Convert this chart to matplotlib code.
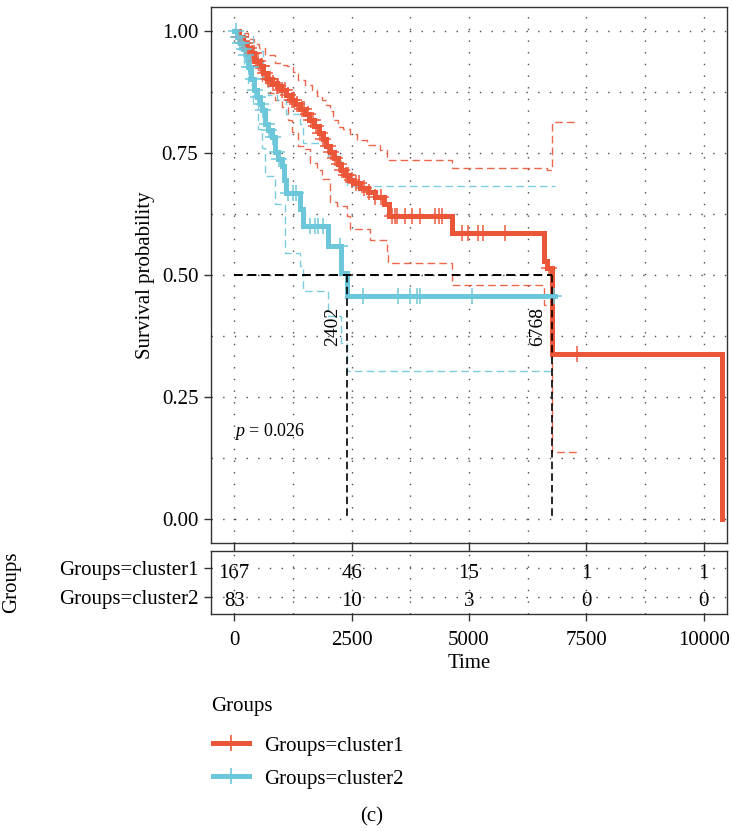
import numpy as np
import matplotlib
matplotlib.use("Agg")
import matplotlib.pyplot as plt
from matplotlib.lines import Line2D

plt.rcParams['font.family'] = ['Liberation Serif', 'DejaVu Serif']
plt.rcParams['mathtext.fontset'] = 'custom'
plt.rcParams['mathtext.rm'] = 'Liberation Serif'
plt.rcParams['mathtext.it'] = 'Liberation Serif:italic'

# ---- Kaplan-Meier estimates (step times and survival after each step) ----
cluster1_time = [0, 90, 180, 260, 340, 430, 520, 610, 700, 800, 900, 1000, 1100,
                 1200, 1300, 1400, 1500, 1600, 1700, 1800, 1880, 1960, 2040, 2120,
                 2200, 2280, 2360, 2440, 2540, 2680, 2840, 3000, 3180, 3290, 4632,
                 6594, 6663, 6768, 10381]
cluster1_surv = [1.0, 0.988, 0.976, 0.965, 0.955, 0.940, 0.928, 0.915, 0.903, 0.895,
                 0.888, 0.880, 0.870, 0.860, 0.850, 0.840, 0.830, 0.818, 0.806, 0.792,
                 0.779, 0.765, 0.752, 0.740, 0.727, 0.716, 0.706, 0.696, 0.688, 0.679,
                 0.670, 0.660, 0.645, 0.621, 0.587, 0.529, 0.515, 0.339, 0.0]

cluster2_time = [0, 60, 120, 180, 240, 300, 360, 420, 480, 540, 600, 660, 720, 800,
                 866, 940, 1010, 1050, 1100, 1400, 1470, 1990, 2280, 2402, 6830]
cluster2_surv = [1.0, 0.988, 0.976, 0.964, 0.951, 0.927, 0.903, 0.879, 0.866, 0.852,
                 0.838, 0.811, 0.797, 0.783, 0.752, 0.738, 0.724, 0.696, 0.669, 0.635,
                 0.601, 0.560, 0.505, 0.457, 0.457]

# ---- censoring times ----
cluster1_censor = [95, 150, 190, 230, 280, 320, 370, 410, 460, 500, 560, 600, 650, 720,
                   760, 830, 900, 940, 1020, 1090, 1140, 1230, 1270, 1330, 1440, 1480,
                   1560, 1630, 1680, 1740, 1830, 1900, 1990, 2060, 2140, 2230, 2300,
                   2380, 2420, 2500, 2590, 2650, 2760, 2870, 3000, 3120, 3354, 3420,
                   3460, 3637, 3786, 3963, 4283, 4354, 4425, 4845, 4987, 5200, 5306,
                   5768, 6700, 7311]
cluster2_censor = [40, 85, 130, 175, 215, 260, 310, 350, 390, 450, 510, 560, 610, 690,
                   740, 820, 900, 960, 1150, 1257, 1320, 1613, 1720, 1790, 1897, 2252,
                   2749, 3497, 3744, 3886, 3957, 5058, 6810]

# ---- 95% confidence limits ----
cluster1_upper_time = [0, 150, 300, 420, 520, 654, 867, 1000, 1117, 1257, 1365, 1500,
                       1650, 1760, 1862, 1950, 2040, 2110, 2216, 2323, 2465, 2607, 2820,
                       3104, 3246, 4632, 6663, 6768, 7311]
cluster1_upper = [1.0, 0.996, 0.985, 0.975, 0.965, 0.951, 0.936, 0.932, 0.929, 0.917,
                  0.900, 0.890, 0.879, 0.868, 0.859, 0.848, 0.836, 0.818, 0.804, 0.800,
                  0.790, 0.777, 0.767, 0.757, 0.737, 0.720, 0.716, 0.815, 0.815]
cluster1_lower_time = [0, 150, 300, 400, 500, 600, 725, 867, 1010, 1150, 1223, 1365,
                       1500, 1613, 1760, 1862, 2039, 2181, 2394, 2465, 2900, 3246, 3282,
                       4632, 6594, 6768, 7311]
cluster1_lower = [1.0, 0.985, 0.962, 0.945, 0.920, 0.895, 0.874, 0.860, 0.845, 0.818,
                  0.793, 0.765, 0.758, 0.731, 0.715, 0.697, 0.649, 0.642, 0.621, 0.594,
                  0.573, 0.545, 0.524, 0.479, 0.438, 0.137, 0.137]

cluster2_upper_time = [0, 200, 400, 618, 727, 900, 1100, 1400, 1470, 1990, 2280, 2402, 6830]
cluster2_upper = [1.0, 0.99, 0.96, 0.905, 0.87, 0.86, 0.83, 0.81, 0.772, 0.745, 0.717,
                  0.682, 0.682]
cluster2_lower_time = [0, 100, 200, 300, 400, 500, 600, 650, 866, 1080, 1400, 1470,
                       1990, 2280, 2402, 6830]
cluster2_lower = [1.0, 0.97, 0.93, 0.89, 0.85, 0.80, 0.76, 0.704, 0.645, 0.546, 0.519,
                  0.467, 0.416, 0.361, 0.303, 0.303]

# ---- medians, test result, risk table ----
median_times = [2402, 6768]
p_value = 0.026
group_labels = ['Groups=cluster1', 'Groups=cluster2']
risk_times = [0, 2500, 5000, 7500, 10000]
risk_cluster1 = [167, 46, 15, 1, 1]
risk_cluster2 = [83, 10, 3, 0, 0]

RED = '#EC5638'
BLUE = '#6CC7DB'
GRID = '#4a4a4a'
SPINE = '#333333'
FS = 15
DOT = (0, (1, 7.4))


def surv_at(times, surv, t):
    idx = np.searchsorted(np.asarray(times), np.asarray(t), side='right') - 1
    return np.asarray(surv)[idx]


fig = plt.figure(figsize=(7.32, 8.31), dpi=100)
ax = fig.add_axes([0.288, 0.3462, 0.7053, 0.6454])
tab = fig.add_axes([0.288, 0.2611, 0.7053, 0.0758])

xmaj = [0, 2500, 5000, 7500, 10000]
xmin = [1250, 3750, 6250, 8750]

# ---- survival panel ----
for t_, s_, ut, us, lt, ls, cen, col in [
        (cluster1_time, cluster1_surv, cluster1_upper_time, cluster1_upper,
         cluster1_lower_time, cluster1_lower, cluster1_censor, RED),
        (cluster2_time, cluster2_surv, cluster2_upper_time, cluster2_upper,
         cluster2_lower_time, cluster2_lower, cluster2_censor, BLUE)]:
    ax.step(ut, us, where='post', color=col, lw=1.0, ls=(0, (5.5, 3)), alpha=0.9, zorder=3)
    ax.step(lt, ls, where='post', color=col, lw=1.0, ls=(0, (5.5, 3)), alpha=0.9, zorder=3)
    ax.step(t_, s_, where='post', color=col, lw=3.6, zorder=4, solid_joinstyle='miter')
    ax.plot(cen, surv_at(t_, s_, cen), ls='none', marker='+', ms=12, mew=1.2,
            color=col, alpha=0.9, zorder=5)

# median survival guides
ax.plot([0, max(median_times)], [0.5, 0.5], color='black', lw=1.4,
        ls=(0, (4.5, 2.5)), zorder=6)
for m in median_times:
    ax.plot([m, m], [0.5, 0.0], color='black', lw=1.2, ls=(0, (4.5, 2.5)), zorder=6)
    ax.annotate(str(m), xy=(m, 0.395), xytext=(-4.5, 0), textcoords='offset points',
                rotation=90, ha='right', va='center', fontsize=14, zorder=7)

ax.text(0, 0.18, r'$p$ = ' + f'{p_value}', ha='left', va='center', fontsize=13)

ax.set_xlim(-500, 10500)
ax.set_ylim(-0.05, 1.05)
ax.set_xticks(xmaj)
ax.set_xticks(xmin, minor=True)
ax.set_yticks([0, 0.25, 0.5, 0.75, 1.0])
ax.set_yticklabels(['0.00', '0.25', '0.50', '0.75', '1.00'])
ax.set_yticks([0.125, 0.375, 0.625, 0.875], minor=True)
ax.grid(True, which='both', color=GRID, ls=DOT, lw=1.0, zorder=0)
ax.set_axisbelow(True)
ax.tick_params(axis='x', which='major', labelbottom=False, length=5.8, width=1.0,
               color=SPINE)
ax.tick_params(axis='y', which='major', length=5, width=1.0, color=SPINE,
               labelsize=FS, pad=4)
ax.tick_params(which='minor', length=0)
ax.set_ylabel('Survival probability', fontsize=FS)
ax.yaxis.set_label_coords(-0.1274, 0.5)
ax.yaxis.label.set_va('center')

# ---- number-at-risk table ----
for row, counts in [(2, risk_cluster1), (1, risk_cluster2)]:
    for t, n in zip(risk_times, counts):
        tab.text(t, row - 0.17, str(n), ha='center', va='center', fontsize=FS, zorder=3)

tab.set_xlim(-500, 10500)
tab.set_ylim(0.4, 2.6)
tab.set_xticks(xmaj)
tab.set_xticklabels([str(v) for v in xmaj])
tab.set_xticks(xmin, minor=True)
tab.set_yticks([1, 2])
tab.set_yticklabels(group_labels[::-1])
tab.grid(True, which='both', color=GRID, ls=DOT, lw=1.0, zorder=0)
tab.tick_params(which='major', length=5, width=1.0, color=SPINE, labelsize=FS, pad=4)
tab.tick_params(which='minor', length=0)
tab.tick_params(axis='x', pad=7)
tab.set_xlabel('Time', fontsize=FS)
tab.xaxis.set_label_coords(0.5, -0.78)
tab.xaxis.label.set_va('center')
tab.set_ylabel('Groups', fontsize=FS)
tab.yaxis.set_label_coords(-0.385, 0.5)
tab.yaxis.label.set_va('center')

for a in (ax, tab):
    for sp in a.spines.values():
        sp.set_color(SPINE)
        sp.set_linewidth(1.0)

# ---- legend ----
fig.text(211 / 732, 1 - 706 / 831, 'Groups', ha='left', va='center', fontsize=FS)
handles = [Line2D([], [], color=RED, lw=3.6, marker='+', ms=12, mew=1.2),
           Line2D([], [], color=BLUE, lw=3.6, marker='+', ms=12, mew=1.2)]
fig.legend(handles, group_labels, loc='upper left',
           bbox_to_anchor=(213 / 732, 1 - 736 / 831), frameon=False,
           fontsize=FS, handlelength=1.75, handletextpad=0.7,
           labelspacing=0.65, borderpad=0, borderaxespad=0)

fig.text(372 / 732, 1 - 817 / 831, '(c)', ha='center', va='center', fontsize=FS)

fig.savefig('out.png', dpi=100)
